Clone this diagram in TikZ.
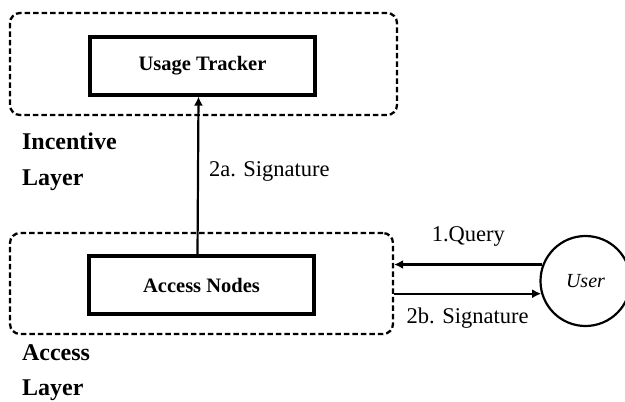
\documentclass[tikz,border=0pt]{standalone}
\usepackage{fontspec}
\setmainfont{Liberation Serif}
\usepackage{tikz}
\usetikzlibrary{arrows.meta, positioning}

\begin{document}
\begin{tikzpicture}[
            x = 1pt, y = -1pt, % pixel-like units, y downwards
            > = {Latex[length=9pt, width=9pt]}, % arrow head style
            line width = 2.2pt
        ]

        \tikzstyle{layer}=[
            draw = black,
            line width = 2.3pt,
            dash pattern = on 5.5pt off 3pt,
            rounded corners = 10pt
        ]
        \tikzstyle{block}=[
            draw = black,
            line width = 3.2pt,
            minimum width = 225pt,
            minimum height = 58pt,
            font = \fontsize{20.5}{24}\selectfont\bfseries
        ]
        \tikzstyle{label}=[
            inner sep = 0pt,
            font = \fontsize{22.5}{26}\selectfont
        ]
        \tikzstyle{caption}=[
            anchor = base west,
            align = left,
            inner sep = 0pt,
            font = \fontsize{24}{35.5}\selectfont\bfseries
        ]

        \useasboundingbox (0,0) rectangle (625,402);

        % layers
        \node[layer, minimum width = 387pt, minimum height = 102pt] (inc_box) at (203.5,64) {};
        \node[layer, minimum width = 383pt, minimum height = 101pt] (acc_box) at (201.5,283.5) {};

        \node[caption] (inc_label) at (21,185) {Incentive\\Layer};
        \node[caption] (acc_label) at (21,395.5) {Access\\Layer};

        % blocks
        \node[block] (tracker) at (202.5,66) {Usage Tracker};
        \node[block] (access) at (201.5,285) {Access Nodes};
        \node[draw, circle, line width = 2.2pt, minimum size = 90pt, inner sep = 0pt,
              font = \fontsize{20}{24}\selectfont\itshape] (user) at (585.5,281) {User};

        \draw[->] ([xshift=-4pt]access.north) -- node[label, pos=0.523, right=10pt] {2a. Signature} ([xshift=-4pt]tracker.south);
        \draw[<-] (acc_box.east |- user.159) -- node[label, midway, above=17pt] {1.Query} (user.159);
        \draw[->] (acc_box.east |- user.196) -- node[label, midway, below=13pt] {2b. Signature} (user.196);

\end{tikzpicture}
\end{document}
